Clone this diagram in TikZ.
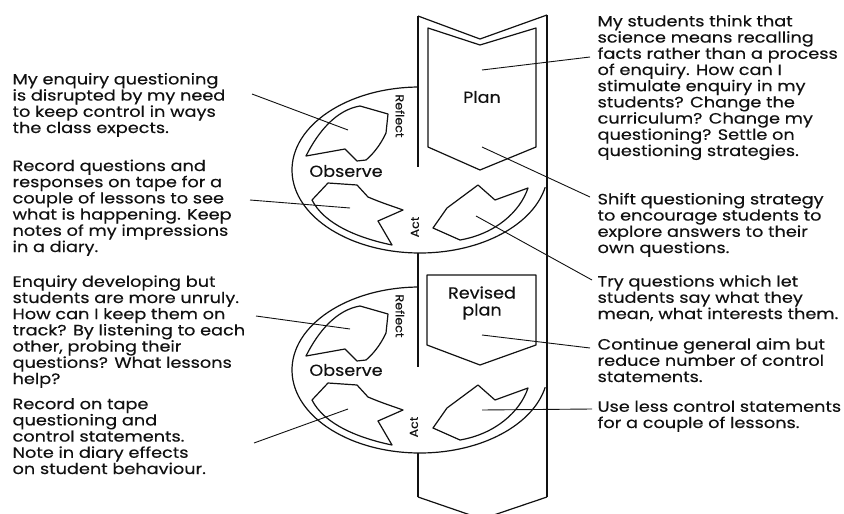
\documentclass[tikz,border=0pt]{standalone}
\usepackage{fontspec}
\setmainfont{Poppins}[FakeStretch=1.18,FakeBold=0.3]
\newfontfamily\lblfam{Poppins}[FakeStretch=1.1,FakeBold=0.2]
\newcommand\bodyf{\fontsize{15}{16.2}\selectfont}
\newcommand\lblf{\lblfam\fontsize{16}{19}\selectfont}
\newcommand\smallf{\lblfam\fontsize{11.5}{12}\selectfont}
\definecolor{ink}{HTML}{111111}
\begin{document}
\begin{tikzpicture}[x=1pt,y=-1pt,line width=1.2pt,line join=round,
  txt/.style={font=\bodyf,align=left,anchor=base west,inner sep=0pt,text=ink},
  lbl/.style={font=\lblf,inner sep=0pt,text=ink,align=center},
  smalllbl/.style={font=\smallf,inner sep=0pt,text=ink},
  conn/.style={line width=0.9pt,draw=ink},
  shp/.style={line width=1.2pt,draw=ink}]
\useasboundingbox[fill=white] (0,0) rectangle (844,514);

% ---------- column ----------
\draw[shp] (418,16) -- (418,167);
\draw[shp] (418,253) -- (418,367);
\draw[shp] (418,453) -- (418,497);
\draw[shp] (547,15) -- (547,497);
\draw[shp] (418,16) -- (480,39) -- (547,15);
\draw[shp] (418,497) -- (482,519) -- (547,497);
% plan frame
\draw[shp] (428,28) -- (480,45) -- (536,28) -- (536,147) -- (480,170) -- (428,147) -- cycle;
\node[lbl] (plan) at (482,97) {Plan};
% revised plan frame
\draw[shp] (427,275) -- (536,275) -- (536,345) -- (480,365) -- (427,345) -- cycle;
\node[lbl] (rplan) at (482,303) {Revised\\[-2pt]plan};

% ---------- ellipses ----------
\foreach \cy in {170,370}{
  \draw[shp] (420,\cy) ++(269:128 and 83) arc[start angle=269,end angle=12,x radius=128,y radius=83];
}

% ---------- cycle arrows ----------
\foreach \dy in {0,200}{
\begin{scope}[shift={(0,\dy)}]
  \draw[shp] (306,156) .. controls (318,132) and (336,110) .. (360,106) -- (388,114) -- (386,133)
     .. controls (380,146) and (372,155) .. (366,160) -- (357,161) -- (345,149) -- cycle;
  \draw[shp] (312,200) -- (328,183) -- (357,185) -- (368,197) .. controls (382,203) and (392,206) .. (403,210)
     -- (378,221) -- (392,245) .. controls (358,238) and (324,224) .. (312,200) -- cycle;
  \draw[shp] (433,228) -- (447,208) -- (478,185) -- (495,200) -- (528,188)
     .. controls (520,212) and (495,234) .. (460,240) -- cycle;
\end{scope}
}
\node[smalllbl,rotate=-90] (refl1) at (400,116) {Reflect};
\node[smalllbl,rotate=-90] (refl2) at (400,316) {Reflect};
\node[lbl] (obs1) at (346,171) {Observe};
\node[lbl] (obs2) at (346,370) {Observe};
\node[smalllbl,rotate=90] (act1) at (415,227) {Act};
\node[smalllbl,rotate=90] (act2) at (414,427) {Act};

% ---------- texts ----------
\node[txt] (tl1) at (12,133) {My enquiry questioning\\is disrupted by my need\\to keep control in ways\\the class expects.};
\node[txt] (tl2) at (12,252) {Record questions and\\responses on tape for a\\couple of lessons to see\\what is happening. Keep\\notes of my impressions\\in a diary.};
\node[txt] (tl3) at (12,384) {Enquiry developing but\\students are more unruly.\\How can I keep them on\\track? By listening to each\\other, probing their\\questions? What lessons\\help?};
\node[txt] (tl4) at (12,474) {Record on tape\\questioning and\\control statements.\\Note in diary effects\\on student behaviour.};

\node[txt] (tr1) at (597,156) {My students think that\\science means recalling\\facts rather than a process\\of enquiry. How can I\\stimulate enquiry in my\\students? Change the\\curriculum? Change my\\questioning? Settle on\\questioning strategies.};
\node[txt] (tr2) at (597,253) {Shift questioning strategy\\to encourage students to\\explore answers to their\\own questions.};
\node[txt] (tr3) at (597,319) {Try questions which let\\students say what they\\mean, what interests them.};
\node[txt] (tr4) at (597,382) {Continue general aim but\\reduce number of control\\statements.};
\node[txt] (tr5) at (597,428) {Use less control statements\\for a couple of lessons.};

% ---------- connectors ----------
\coordinate (l1a) at (252,94);   \coordinate (l1b) at (348,130);
\coordinate (l2a) at (250,200);  \coordinate (l2b) at (350,208);
\coordinate (l3a) at (256,316);  \coordinate (l3b) at (350,329);
\coordinate (l4a) at (254,443);  \coordinate (l4b) at (348,409);
\coordinate (r1a) at (590,57);   \coordinate (r1b) at (482,70);
\coordinate (r2a) at (590,197);  \coordinate (r2b) at (482,147);
\coordinate (r3a) at (592,280);  \coordinate (r3b) at (476,216);
\coordinate (r4a) at (590,348);  \coordinate (r4b) at (482,335);
\coordinate (r5a) at (592,409);  \coordinate (r5b) at (482,410);
\foreach \a/\b in {l1a/l1b,l2a/l2b,l3a/l3b,l4a/l4b,r1a/r1b,r2a/r2b,r3a/r3b,r4a/r4b,r5a/r5b}
  \draw[conn] (\a) -- (\b);
\end{tikzpicture}
\end{document}
